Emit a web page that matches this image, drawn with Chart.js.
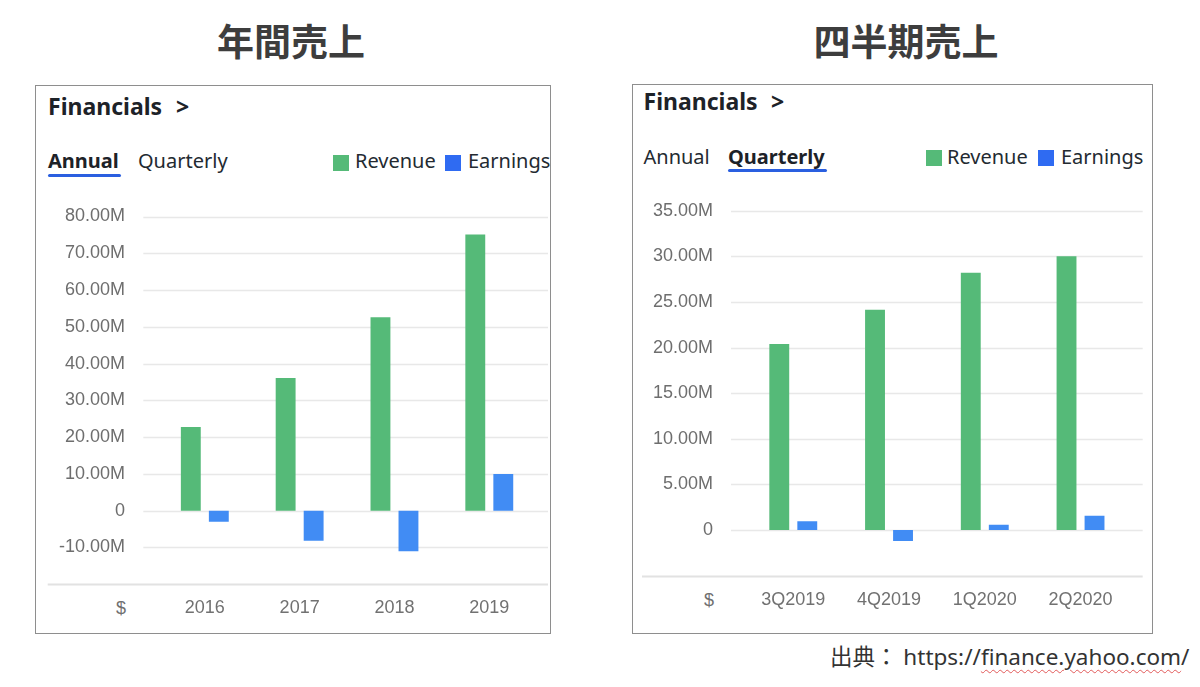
<!DOCTYPE html>
<html>
<head>
<meta charset="utf-8">
<script src="https://cdn.jsdelivr.net/npm/chart.js@4/dist/chart.umd.min.js"></script>
<style>
  html, body { margin: 0; padding: 0; background: #fff; }
  body { width: 1200px; height: 687px; position: relative; overflow: hidden; font-family: "Noto Sans", sans-serif; }
  .abs { position: absolute; white-space: nowrap; }
  .box { position: absolute; border: 1.5px solid #8e8e8e; box-sizing: border-box; background: #fff; }
  .title { font-family: "Noto Sans CJK JP", sans-serif; font-weight: 700; font-size: 37px; line-height: 37px; color: #3d3d3d; text-align: center; width: 300px; }
  .fin { font-size: 23px; line-height: 23px; font-weight: 700; color: #1d2228; }
  .tab { font-size: 20px; line-height: 20px; color: #232a31; }
  .tab.on { font-weight: 700; color: #1d2228; }
  .uline { height: 3px; background: #2a5fe0; border-radius: 2px; }
  .sq { width: 16px; height: 16px; }
  .dollar { font-family: "Liberation Sans", Arial, sans-serif; font-size: 18px; line-height: 18px; color: #707070; width: 20px; text-align: center; }
  canvas { position: absolute; }
  .src { font-family: "Noto Sans", "Noto Sans CJK JP", sans-serif; font-size: 22.5px; line-height: 22px; color: #333; }
  .wavy { text-decoration: underline wavy #e25a5a; text-decoration-thickness: 1px; text-underline-offset: 4px; }
</style>
</head>
<body>
<div class="abs title" style="left:141px; top:22px;">年間売上</div>
<div class="abs title" style="left:756px; top:22px;">四半期売上</div>

<div class="box" style="left:35px; top:85px; width:516px; height:549px;"></div>
<div class="box" style="left:632px; top:84px; width:521px; height:550px;"></div>

<!-- left header -->
<div class="abs fin" style="left:48px; top:94.6px;">Financials</div>
<div class="abs fin" style="left:176px; top:94.6px;">&gt;</div>
<div class="abs tab on" style="left:48px; top:150.5px;">Annual</div>
<div class="abs tab" style="left:138px; top:150.5px;">Quarterly</div>
<div class="abs uline" style="left:48px; top:173.5px; width:73px;"></div>
<div class="abs sq" style="left:333px; top:154.5px; background:#55ba78;"></div>
<div class="abs tab" style="left:355px; top:150.5px;">Revenue</div>
<div class="abs sq" style="left:445px; top:154.5px; background:#2f6bf2;"></div>
<div class="abs tab" style="left:468px; top:150.5px;">Earnings</div>

<!-- right header -->
<div class="abs fin" style="left:643.5px; top:90px;">Financials</div>
<div class="abs fin" style="left:771px; top:90px;">&gt;</div>
<div class="abs tab" style="left:643.5px; top:146.5px;">Annual</div>
<div class="abs tab on" style="left:728px; top:146.5px;">Quarterly</div>
<div class="abs uline" style="left:728px; top:169px; width:99px;"></div>
<div class="abs sq" style="left:926px; top:149.5px; background:#55ba78;"></div>
<div class="abs tab" style="left:947px; top:146.5px;">Revenue</div>
<div class="abs sq" style="left:1038px; top:149.5px; background:#2f6bf2;"></div>
<div class="abs tab" style="left:1061px; top:146.5px;">Earnings</div>

<div class="abs dollar" style="left:111px; top:599px;">$</div>
<div class="abs dollar" style="left:699px; top:591px;">$</div>

<canvas id="annual" width="513" height="440" style="left:36px; top:190px;"></canvas>
<canvas id="quarter" width="518" height="440" style="left:633px; top:190px;"></canvas>

<div class="abs src" style="left:830px; top:646px;">出典： https://<span class="wavy">finance.yahoo.com</span>/</div>

<script>
// ---- data (values in millions of $) ----
const annualCategories = ['2016', '2017', '2018', '2019'];
const annualRevenue = [22.75, 36.1, 52.6, 75.1];
const annualEarnings = [-3.0, -8.2, -11.05, 10.0];

const quarterCategories = ['3Q2019', '4Q2019', '1Q2020', '2Q2020'];
const quarterRevenue = [20.4, 24.15, 28.2, 30.0];
const quarterEarnings = [0.95, -1.2, 0.57, 1.55];

const annualAxis = { min: -20, max: 80, step: 10 };
const quarterAxis = { min: -5, max: 35, step: 5 };

const GREEN = '#55ba78';
const BLUE = '#418cf4';

Chart.defaults.font.family = "'Liberation Sans', Arial, sans-serif";

function fmt(v, min) {
  if (v === min) return '';
  if (v === 0) return '0';
  return v.toFixed(2) + 'M';
}

const gridPlugin = {
  id: 'customGrid',
  beforeDatasetsDraw(chart, args, opts) {
    const ys = chart.scales.y;
    const ctx = chart.ctx;
    ctx.save();
    ys.ticks.forEach(t => {
      const y = Math.round(ys.getPixelForValue(t.value)) + 0.5;
      const isBase = t.value === ys.min;
      ctx.strokeStyle = isBase ? '#e2e2e2' : '#e8e8e8';
      ctx.lineWidth = isBase ? 2 : 1.5;
      ctx.beginPath();
      ctx.moveTo(isBase ? opts.baseLeft : opts.left, y);
      ctx.lineTo(opts.right, y);
      ctx.stroke();
    });
    ctx.restore();
  }
};

function makeChart(id, cats, rev, earn, axis, cfg) {
  const padding = { top: cfg.area.top, right: 10, bottom: 0, left: 0 };
  const chart = new Chart(document.getElementById(id), {
    type: 'bar',
    data: {
      labels: cats,
      datasets: [
        { label: 'Revenue', data: rev, backgroundColor: GREEN, borderWidth: 0,
          categoryPercentage: cfg.catPct, barPercentage: 0.71 },
        { label: 'Earnings', data: earn, backgroundColor: BLUE, borderWidth: 0,
          categoryPercentage: cfg.catPct, barPercentage: 0.71 }
      ]
    },
    options: {
      responsive: false,
      animation: false,
      devicePixelRatio: 1,
      layout: { padding: padding },
      plugins: {
        legend: { display: false },
        tooltip: { enabled: false },
        customGrid: cfg.grid
      },
      scales: {
        x: {
          grid: { display: false, drawTicks: false },
          border: { display: false },
          ticks: { color: '#717171', font: { size: 18 }, padding: cfg.xPad, maxRotation: 0 },
          afterFit: s => { s.height = cfg.xHeight; }
        },
        y: {
          min: axis.min, max: axis.max,
          grid: { display: false, drawTicks: false },
          border: { display: false },
          ticks: { stepSize: axis.step, color: '#6e6e6e', font: { size: 18 }, padding: 32.4,
                   callback: v => fmt(v, axis.min) },
          afterFit: s => { s.width = cfg.area.left; s.paddingTop = 0; s.paddingBottom = 0; }
        }
      }
    },
    plugins: [gridPlugin]
  });
  // nudge the layout padding so the plot area lands where the reference has it
  for (let i = 0; i < 4; i++) {
    const a = chart.chartArea;
    padding.top = Math.max(0, padding.top + (cfg.area.top - a.top));
    padding.right = Math.max(0, padding.right + (a.right - cfg.area.right));
    chart.update();
  }
  return chart;
}

makeChart('annual', annualCategories, annualRevenue, annualEarnings, annualAxis, {
  catPct: 0.5907, xPad: 13, xHeight: 45.8,
  area: { left: 121.4, right: 500.7, top: 26.5 },
  grid: { left: 107.3, right: 512, baseLeft: 11.7 }
});

makeChart('quarter', quarterCategories, quarterRevenue, quarterEarnings, quarterAxis, {
  catPct: 0.585, xPad: 13.6, xHeight: 54.4,
  area: { left: 112.4, right: 495.4, top: 20.7 },
  grid: { left: 98, right: 509.7, baseLeft: 9 }
});
</script>
</body>
</html>
